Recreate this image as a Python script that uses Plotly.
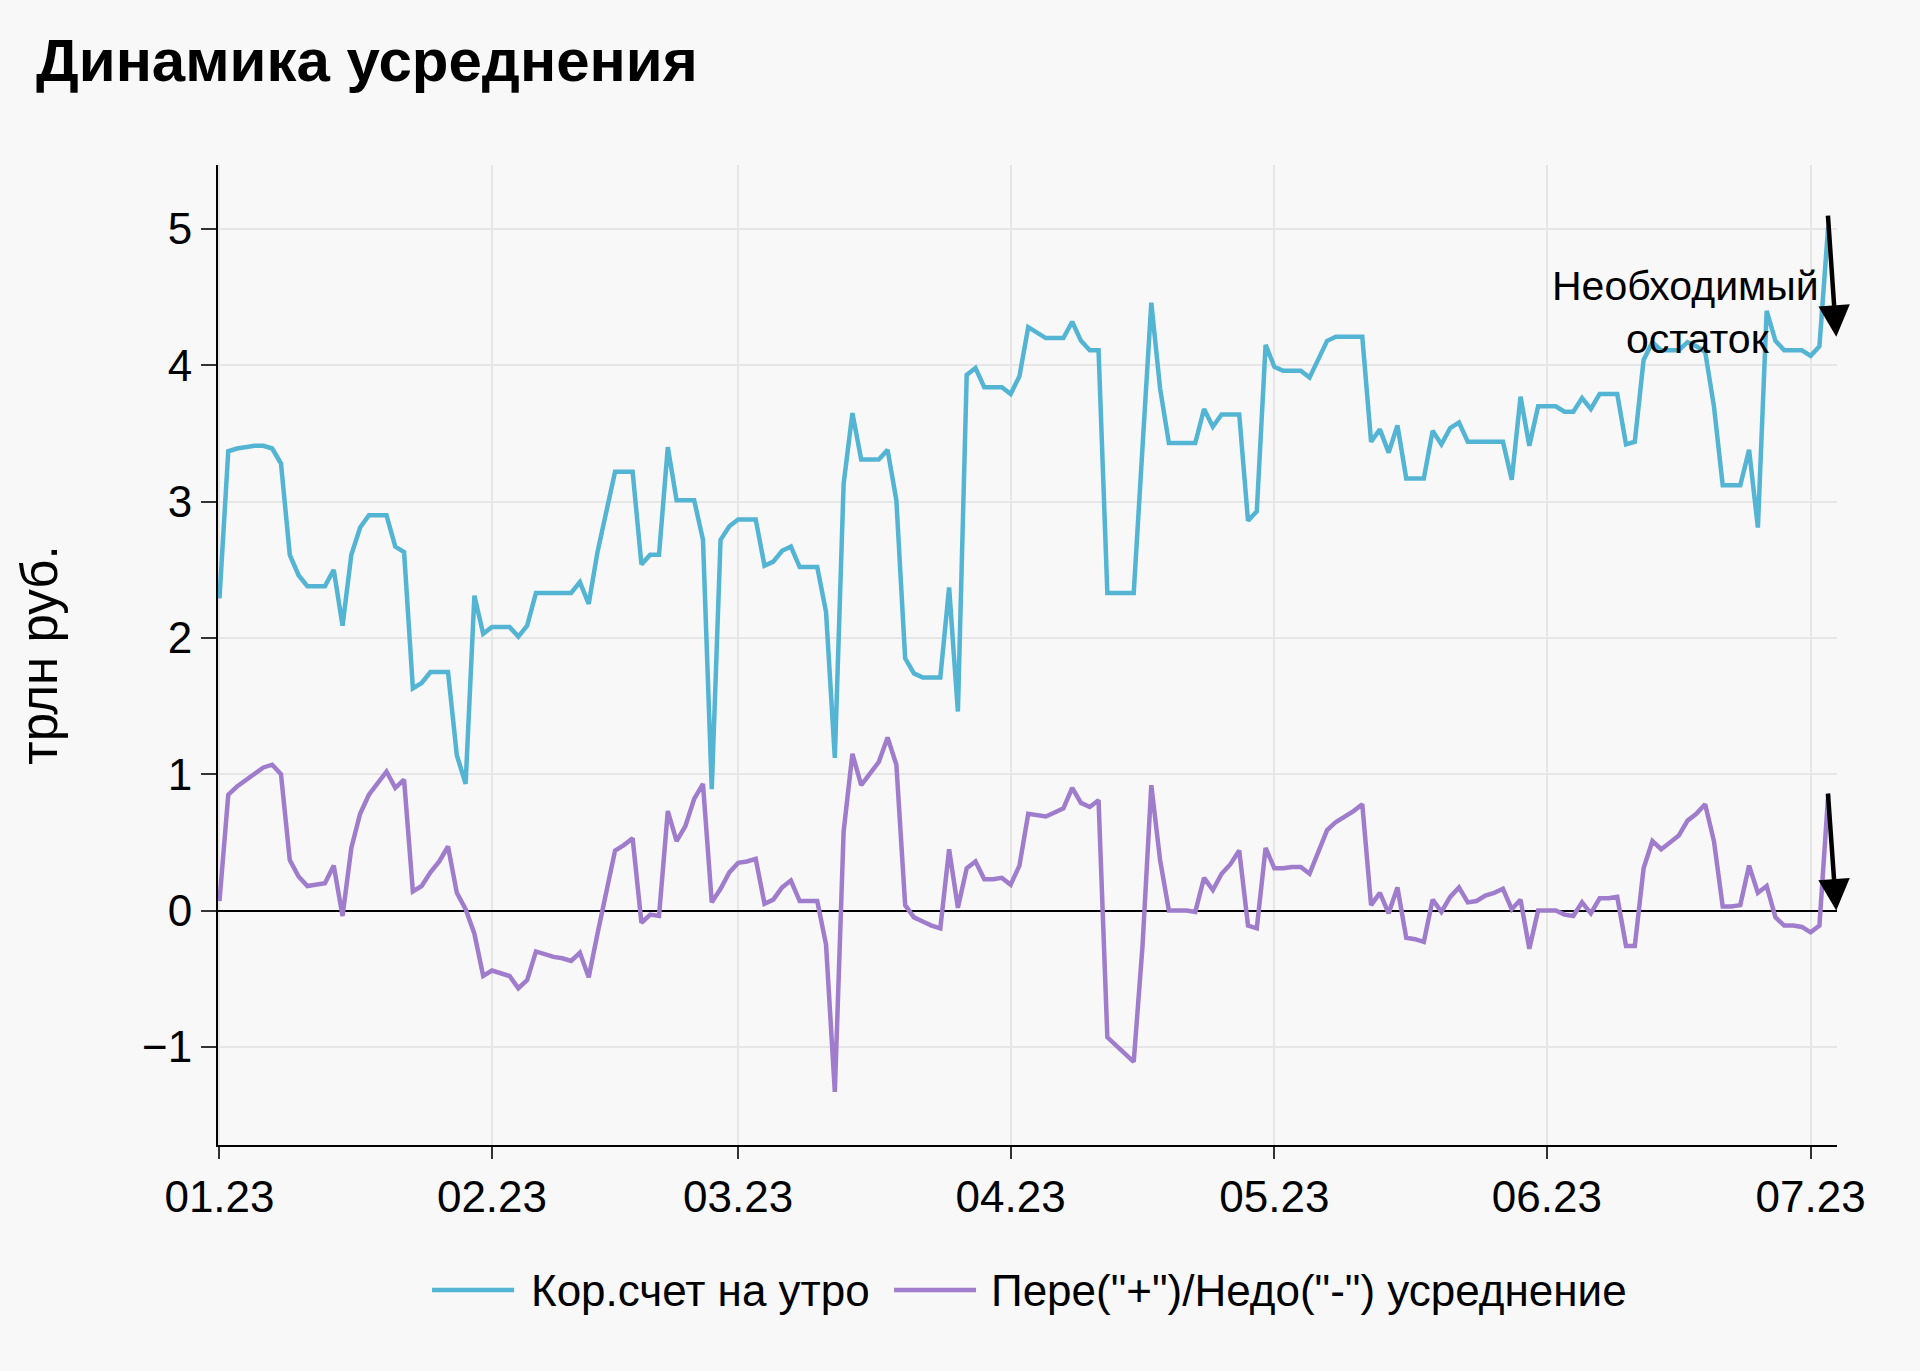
import pandas as pd
import plotly.graph_objects as go

# ---- data (daily, from 2023-01-01) ----
start_date = "2023-01-01"
corr_account = [
    2.29, 3.37, 3.39, 3.40, 3.41, 3.41, 3.39, 3.28, 2.61, 2.46,
    2.38, 2.38, 2.38, 2.50, 2.09, 2.61, 2.81, 2.90, 2.90, 2.90,
    2.67, 2.63, 1.63, 1.67, 1.75, 1.75, 1.75, 1.14, 0.93, 2.31,
    2.03, 2.08, 2.08, 2.08, 2.01, 2.09, 2.33, 2.33, 2.33, 2.33,
    2.33, 2.41, 2.25, 2.63, 2.93, 3.22, 3.22, 3.22, 2.54, 2.61,
    2.61, 3.40, 3.01, 3.01, 3.01, 2.72, 0.89, 2.72, 2.82, 2.87,
    2.87, 2.87, 2.53, 2.56, 2.64, 2.67, 2.52, 2.52, 2.52, 2.19,
    1.12, 3.13, 3.65, 3.31, 3.31, 3.31, 3.38, 3.01, 1.85, 1.74,
    1.71, 1.71, 1.71, 2.37, 1.46, 3.93, 3.98, 3.84, 3.84, 3.84,
    3.79, 3.92, 4.28, 4.24, 4.20, 4.20, 4.20, 4.32, 4.18, 4.11,
    4.11, 2.33, 2.33, 2.33, 2.33, 3.40, 4.46, 3.83, 3.43, 3.43,
    3.43, 3.43, 3.68, 3.55, 3.64, 3.64, 3.64, 2.86, 2.93, 4.15,
    3.99, 3.96, 3.96, 3.96, 3.91, 4.04, 4.18, 4.21, 4.21, 4.21,
    4.21, 3.44, 3.53, 3.36, 3.56, 3.17, 3.17, 3.17, 3.52, 3.42,
    3.54, 3.58, 3.44, 3.44, 3.44, 3.44, 3.44, 3.16, 3.77, 3.41,
    3.70, 3.70, 3.70, 3.66, 3.66, 3.76, 3.68, 3.79, 3.79, 3.79,
    3.42, 3.44, 4.04, 4.17, 4.11, 4.11, 4.11, 4.17, 4.14, 4.10,
    3.70, 3.12, 3.12, 3.12, 3.38, 2.81, 4.40, 4.18, 4.11, 4.11,
    4.11, 4.07, 4.14, 5.02,
]
averaging_gap = [
    0.07, 0.85, 0.91, 0.96, 1.00, 1.05, 1.07, 1.00, 0.37, 0.25,
    0.18, 0.19, 0.20, 0.33, -0.04, 0.46, 0.71, 0.85, 0.94, 1.02,
    0.90, 0.96, 0.14, 0.18, 0.28, 0.36, 0.47, 0.13, 0.01, -0.17,
    -0.48, -0.44, -0.46, -0.48, -0.57, -0.51, -0.30, -0.32, -0.34, -0.35,
    -0.37, -0.31, -0.49, -0.17, 0.13, 0.44, 0.48, 0.53, -0.09, -0.03,
    -0.04, 0.73, 0.51, 0.62, 0.82, 0.93, 0.06, 0.16, 0.28, 0.35,
    0.36, 0.38, 0.05, 0.08, 0.17, 0.22, 0.07, 0.07, 0.07, -0.25,
    -1.33, 0.58, 1.15, 0.92, 1.00, 1.09, 1.27, 1.07, 0.04, -0.05,
    -0.08, -0.11, -0.13, 0.45, 0.02, 0.31, 0.36, 0.23, 0.23, 0.24,
    0.19, 0.33, 0.71, 0.70, 0.69, 0.72, 0.75, 0.90, 0.79, 0.76,
    0.81, -0.93, -0.99, -1.05, -1.11, -0.26, 0.92, 0.37, 0.00, 0.00,
    0.00, -0.01, 0.24, 0.15, 0.27, 0.34, 0.44, -0.11, -0.13, 0.46,
    0.31, 0.31, 0.32, 0.32, 0.27, 0.43, 0.59, 0.65, 0.69, 0.73,
    0.78, 0.04, 0.13, -0.02, 0.17, -0.20, -0.21, -0.23, 0.08, -0.01,
    0.10, 0.17, 0.06, 0.07, 0.11, 0.13, 0.16, 0.01, 0.08, -0.28,
    0.00, 0.00, 0.00, -0.03, -0.04, 0.06, -0.02, 0.09, 0.09, 0.10,
    -0.26, -0.26, 0.31, 0.51, 0.45, 0.50, 0.55, 0.66, 0.71, 0.78,
    0.51, 0.03, 0.03, 0.04, 0.33, 0.13, 0.18, -0.05, -0.11, -0.11,
    -0.12, -0.16, -0.11, 0.85,
]
dates = pd.date_range(start_date, periods=len(corr_account), freq="D")

series_names = ["Кор.счет на утро", 'Пере("+")/Недо("-") усреднение']
title_text = "Динамика усреднения"
y_title = "трлн руб."
note_lines = ["Необходимый", "остаток"]

# arrow endpoints (data coords)
arrow_tail_x = "2023-07-02T23:00"
arrow_tip_x = "2023-07-03T22:00"
arrow1 = (5.11, 4.21)
arrow2 = (0.87, 0.00)

BLUE = "#54b4d3"
PURPLE = "#a07ccc"
COLORS = [BLUE, PURPLE]
BG = "#f8f8f8"
FONT = "Liberation Sans, Arial, sans-serif"

fig = go.Figure()
fig.add_trace(go.Scatter(x=dates, y=corr_account, mode="lines", name=series_names[0],
                         line=dict(color=BLUE, width=4.5), showlegend=False))
fig.add_trace(go.Scatter(x=dates, y=averaging_gap, mode="lines", name=series_names[1],
                         line=dict(color=PURPLE, width=4.5), showlegend=False))

for tail, tip in (arrow1, arrow2):
    fig.add_annotation(x=arrow_tip_x, y=tip, ax=arrow_tail_x, ay=tail,
                       xref="x", yref="y", axref="x", ayref="y",
                       text="", showarrow=True, arrowhead=2, arrowsize=1.4,
                       arrowwidth=4.5, arrowcolor="black")

# annotation text (two lines, centred)
for txt, xp, yp in zip(note_lines, [0.9067, 0.9142], [0.8765, 0.8224]):
    fig.add_annotation(x=xp, y=yp, xref="paper", yref="paper", text=txt,
                       showarrow=False, xanchor="center", yanchor="middle",
                       font=dict(size=41, color="black", family=FONT))

# legend drawn below the plot (paper coordinates)
leg_y = -0.148
leg_line_x = [(0.1322, 0.1829), (0.4176, 0.4682)]
leg_text_x = [0.1922, 0.4762]
for name, col, (x0, x1), tx in zip(series_names, COLORS, leg_line_x, leg_text_x):
    fig.add_shape(type="line", xref="paper", yref="paper", x0=x0, x1=x1,
                  y0=leg_y, y1=leg_y, line=dict(color=col, width=4.5))
    fig.add_annotation(x=tx, y=leg_y, xref="paper", yref="paper", text=name,
                       showarrow=False, xanchor="left", yanchor="middle",
                       font=dict(size=44, color="black", family=FONT))

fig.update_layout(
    width=1920, height=1371,
    paper_bgcolor=BG, plot_bgcolor=BG,
    margin=dict(l=218, r=83, t=165, b=226),
    font=dict(family=FONT, size=44, color="black"),
    title=dict(text=f"<b>{title_text}</b>", x=36/1920, xanchor="left", xref="container",
               y=1-60/1371, yanchor="middle", yref="container",
               font=dict(size=60, family=FONT, color="black")),
    showlegend=False,
)
fig.update_xaxes(
    type="date", range=["2022-12-31T20:00", "2023-07-04T00:00"],
    dtick="M1", tick0="2023-01-01", tickformat="%m.%y",
    showgrid=True, gridcolor="#e6e6e6", gridwidth=2,
    showline=True, linecolor="black", linewidth=2,
    ticks="outside", ticklen=12, tickwidth=2, tickcolor="#333",
    tickfont=dict(size=44), zeroline=False,
)
fig.update_yaxes(
    range=[-1.72, 5.47], tickvals=[-1, 0, 1, 2, 3, 4, 5],
    showgrid=True, gridcolor="#e6e6e6", gridwidth=2,
    showline=True, linecolor="black", linewidth=2,
    ticks="outside", ticklen=15, tickwidth=2, tickcolor="#333",
    tickfont=dict(size=44),
    zeroline=True, zerolinecolor="black", zerolinewidth=2,
    title=dict(text=y_title, font=dict(size=51), standoff=68),
)

fig.write_html("out.html")
